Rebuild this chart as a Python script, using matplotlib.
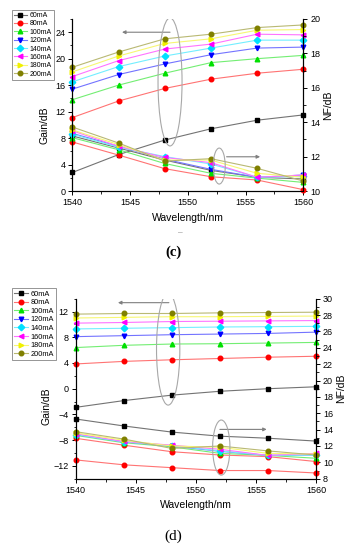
import matplotlib
matplotlib.use("Agg")
import matplotlib.pyplot as plt
from matplotlib.patches import Ellipse
from matplotlib.ticker import MultipleLocator

plt.rcParams['font.family'] = ['Liberation Sans', 'DejaVu Sans']

# -- data --
wavelength = [1540, 1544, 1548, 1552, 1556, 1560]
labels = ["60mA", "80mA", "100mA", "120mA", "140mA", "160mA", "180mA", "200mA"]
colors = ["#000000", "#ff0000", "#00e000", "#0000ff", "#00e0ff", "#ff00ff", "#f0f000", "#808000"]
markers = ["s", "o", "^", "v", "D", "<", ">", "o"]

# panel (c): gain (left axis) and noise figure (right axis)
gain_c = [
    [2.8, 5.5, 7.7, 9.4, 10.7, 11.5],
    [11.1, 13.6, 15.5, 16.9, 17.8, 18.4],
    [13.8, 16.0, 17.8, 19.4, 20.0, 20.5],
    [15.4, 17.6, 19.2, 20.6, 21.6, 21.75],
    [16.5, 18.8, 20.4, 21.6, 22.8, 22.8],
    [17.3, 19.7, 21.45, 22.2, 23.7, 23.6],
    [18.0, 20.4, 22.3, 23.0, 24.3, 24.4],
    [18.7, 21.0, 23.0, 23.7, 24.7, 25.1],
]
nf_c = [
    [13.2, 12.5, 11.8, 11.2, 10.8, 10.7],
    [12.85, 12.09, 11.3, 10.83, 10.64, 10.08],
    [13.1, 12.4, 11.6, 11.03, 10.75, 10.5],
    [13.35, 12.6, 11.85, 11.26, 10.8, 10.93],
    [13.3, 12.55, 12.0, 11.57, 10.8, 10.85],
    [13.5, 12.6, 11.95, 11.65, 10.8, 10.93],
    [13.55, 12.7, 11.8, 11.8, 11.03, 10.8],
    [13.72, 12.79, 11.74, 11.88, 11.32, 10.58],
]

# panel (d)
gain_d = [
    [-2.9, -1.85, -1.0, -0.4, 0.0, 0.3],
    [3.85, 4.25, 4.5, 4.7, 4.9, 5.05],
    [6.4, 6.75, 6.95, 7.0, 7.1, 7.2],
    [8.1, 8.25, 8.4, 8.5, 8.6, 8.8],
    [9.3, 9.4, 9.5, 9.6, 9.65, 9.7],
    [10.2, 10.3, 10.45, 10.5, 10.55, 10.6],
    [11.0, 11.1, 11.2, 11.2, 11.25, 11.3],
    [11.6, 11.7, 11.7, 11.8, 11.85, 11.9],
]
nf_d = [
    [15.3, 14.45, 13.7, 13.2, 12.95, 12.6],
    [12.94, 12.1, 11.3, 10.9, 10.7, 10.1],
    [13.3, 12.4, 11.9, 11.1, 10.85, 10.5],
    [13.4, 12.5, 12.0, 11.35, 10.85, 10.9],
    [13.4, 12.5, 12.05, 11.4, 10.85, 10.9],
    [13.5, 12.55, 12.1, 11.6, 10.85, 11.1],
    [13.6, 12.7, 12.0, 11.85, 11.1, 11.0],
    [13.75, 12.85, 11.7, 12.0, 11.4, 10.9],
]
nf_d_low = [10.3, 9.7, 9.35, 9.0, 9.0, 8.7]


def lighten(c, amt=0.5):
    rgb = matplotlib.colors.to_rgb(c)
    return tuple(v + (1 - v) * amt for v in rgb)


def style_axes(ax, ax2):
    for a in (ax, ax2):
        a.spines['top'].set_visible(False)
        a.tick_params(labelsize=6.5, length=3, width=0.7, direction='out', pad=2)
        a.tick_params(which='minor', length=1.8, width=0.6, direction='out')
        for s in a.spines.values():
            s.set_linewidth(0.8)
    ax.set_xlim(1540, 1560)
    ax.xaxis.set_major_locator(MultipleLocator(5))
    ax.xaxis.set_minor_locator(MultipleLocator(2.5))
    ax.set_xlabel("Wavelength/nm", fontsize=7.5)
    ax.set_ylabel("Gain/dB", fontsize=7.5, labelpad=2)
    ax2.set_ylabel("NF/dB", fontsize=7.5, labelpad=2)


def draw_series(ax, y, i, label=None):
    ax.plot(wavelength, y, color=lighten(colors[i], 0.45), lw=0.8,
            marker=markers[i], ms=3.3, mfc=colors[i], mec=colors[i],
            label=label, clip_on=False)


def notes(ax, e1, a1, e2, a2):
    for (cx, cy, w, h) in (e1, e2):
        ax.add_patch(Ellipse((cx, cy), w, h, transform=ax.transAxes,
                             fill=False, ec="#a8a8a8", lw=0.8, zorder=5))
    for (x0, x1, yy) in (a1, a2):
        ax.annotate("", xy=(x1, yy), xytext=(x0, yy), xycoords='axes fraction',
                    arrowprops=dict(arrowstyle="-|>", color="#808080", lw=0.8,
                                    mutation_scale=5, shrinkA=0, shrinkB=0))


def add_legend(h, l, top, size=5):
    leg = fig.legend(h, l, loc='upper left', bbox_to_anchor=(0.035, top), fontsize=size,
                     frameon=True, fancybox=False, edgecolor='#666666', handlelength=1.8,
                     labelspacing=0.2, borderpad=0.3, handletextpad=0.4,
                     borderaxespad=0)
    leg.get_frame().set_linewidth(0.6)
    leg.set_zorder(10)


fig = plt.figure(figsize=(3.47, 5.5), dpi=100)

# ---- panel (c) ----
ax = fig.add_axes([0.2085, 0.6527, 0.6655, 0.3128])
ax2 = ax.twinx()
for i in range(8):
    draw_series(ax, gain_c[i], i, labels[i])
    draw_series(ax2, nf_c[i], i)
ax.set_ylim(0, 26)
ax.yaxis.set_major_locator(MultipleLocator(4))
ax.yaxis.set_minor_locator(MultipleLocator(2))
ax2.set_ylim(10, 20)
ax2.yaxis.set_major_locator(MultipleLocator(2))
ax2.yaxis.set_minor_locator(MultipleLocator(1))
style_axes(ax, ax2)
ax.yaxis.set_label_coords(-0.1, 0.38)
notes(ax2, (0.423, 0.634, 0.104, 0.744), (0.423, 0.215, 0.923),
      (0.636, 0.145, 0.052, 0.209), (0.668, 0.813, 0.199))
h, l = ax.get_legend_handles_labels()
add_legend(h, l, 0.982)
fig.text(0.52, 0.574, "–", fontsize=6, color="#888888", ha='center')
fig.text(0.5, 0.535, "(c)", fontsize=10.5, family=['Liberation Serif'], ha='center',
         weight='bold')

# ---- panel (d) ----
bx = fig.add_axes([0.218, 0.1296, 0.6926, 0.3273])
bx2 = bx.twinx()
for i in range(8):
    draw_series(bx, gain_d[i], i, labels[i])
    draw_series(bx2, nf_d[i], i)
draw_series(bx2, nf_d_low, 1)
bx.set_ylim(-14, 14)
bx.yaxis.set_major_locator(MultipleLocator(4))
bx.yaxis.set_minor_locator(MultipleLocator(2))
bx2.set_ylim(8, 30)
bx2.yaxis.set_major_locator(MultipleLocator(2))
bx2.yaxis.set_minor_locator(MultipleLocator(1))
style_axes(bx, bx2)
bx.yaxis.set_label_coords(-0.1, 0.4)
notes(bx2, (0.385, 0.72, 0.097, 0.622), (0.388, 0.176, 0.978),
      (0.606, 0.173, 0.072, 0.306), (0.60, 0.795, 0.274))
h, l = bx.get_legend_handles_labels()
add_legend(h, l, 0.476, size=5.3)
fig.text(0.5, 0.018, "(d)", fontsize=11, family=['Liberation Serif'], ha='center')

fig.savefig("out.png", dpi=100)
